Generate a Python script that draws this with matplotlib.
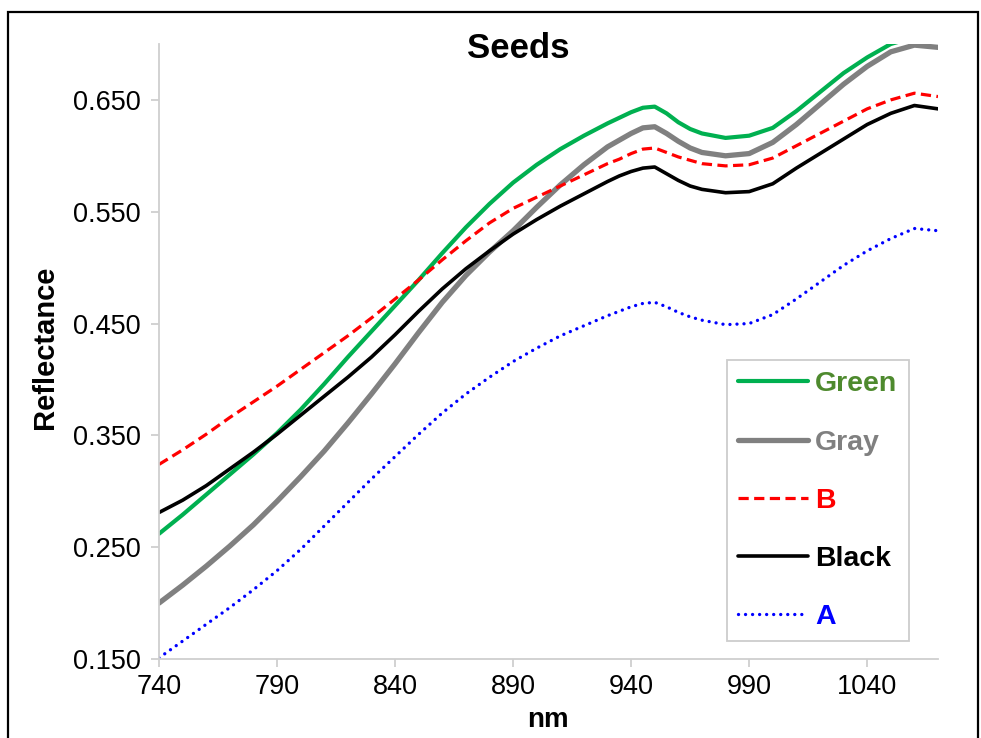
import matplotlib.pyplot as plt
from matplotlib.patches import Rectangle

plt.rcParams['font.family'] = ['Liberation Sans', 'DejaVu Sans']

wavelength = [740, 750, 760, 770, 780, 790, 800, 810, 820, 830, 840, 850,
              860, 870, 880, 890, 900, 910, 920, 930, 935, 940, 945, 950,
              955, 960, 965, 970, 980, 990, 1000, 1010, 1020, 1030, 1040,
              1050, 1060, 1070]

green = [0.262, 0.279, 0.297, 0.315, 0.333, 0.352, 0.373, 0.396, 0.420, 0.443,
         0.466, 0.489, 0.513, 0.536, 0.557, 0.576, 0.592, 0.606, 0.618, 0.629,
         0.634, 0.639, 0.643, 0.644, 0.638, 0.630, 0.624, 0.620, 0.616, 0.618,
         0.625, 0.640, 0.657, 0.674, 0.688, 0.700, 0.706, 0.710]
gray = [0.200, 0.216, 0.233, 0.251, 0.270, 0.291, 0.313, 0.336, 0.361, 0.387,
        0.414, 0.442, 0.469, 0.493, 0.514, 0.533, 0.554, 0.574, 0.592, 0.608,
        0.614, 0.620, 0.625, 0.626, 0.620, 0.613, 0.607, 0.603, 0.600, 0.602,
        0.612, 0.628, 0.646, 0.664, 0.680, 0.693, 0.699, 0.697]
b_vals = [0.324, 0.337, 0.351, 0.366, 0.380, 0.394, 0.409, 0.424, 0.439, 0.455,
          0.472, 0.489, 0.507, 0.524, 0.540, 0.553, 0.563, 0.573, 0.583, 0.593,
          0.597, 0.602, 0.606, 0.607, 0.603, 0.599, 0.596, 0.593, 0.591, 0.592,
          0.598, 0.609, 0.620, 0.631, 0.642, 0.650, 0.656, 0.653]
black = [0.281, 0.292, 0.305, 0.320, 0.335, 0.351, 0.368, 0.385, 0.402, 0.420,
         0.440, 0.461, 0.481, 0.499, 0.515, 0.530, 0.543, 0.555, 0.566, 0.577,
         0.582, 0.586, 0.589, 0.590, 0.584, 0.578, 0.573, 0.570, 0.567, 0.568,
         0.575, 0.589, 0.602, 0.615, 0.628, 0.638, 0.645, 0.642]
a_vals = [0.151, 0.166, 0.181, 0.196, 0.212, 0.229, 0.248, 0.269, 0.290, 0.311,
          0.331, 0.351, 0.370, 0.387, 0.402, 0.416, 0.428, 0.439, 0.448, 0.457,
          0.461, 0.465, 0.468, 0.469, 0.465, 0.460, 0.456, 0.453, 0.449, 0.450,
          0.458, 0.472, 0.487, 0.502, 0.515, 0.526, 0.535, 0.533]

x_ticks = [740, 790, 840, 890, 940, 990, 1040]
y_ticks = [0.150, 0.250, 0.350, 0.450, 0.550, 0.650]

fig = plt.figure(figsize=(9.81, 7.38), dpi=100)
fig.patch.set_facecolor("white")
ax = fig.add_axes([159 / 981, 1 - 659 / 738, (938 - 159) / 981, (659 - 44) / 738])

ax.plot(wavelength, green, color="#00B050", lw=3.0, label="Green",
        solid_capstyle="round", solid_joinstyle="round")
ax.plot(wavelength, gray, color="#808080", lw=3.8, label="Gray",
        solid_capstyle="round", solid_joinstyle="round")
ax.plot(wavelength, b_vals, color="#FF0000", lw=2.3, ls=(0, (3.2, 1.7)), label="B")
ax.plot(wavelength, black, color="black", lw=2.6, label="Black",
        solid_capstyle="round", solid_joinstyle="round")
ax.plot(wavelength, a_vals, color="#0000FF", lw=2.4, ls=(0, (0.01, 2.1)),
        dash_capstyle="round", label="A")

ax.set_xlim(740, 1070)
ax.set_ylim(0.15, 0.70)
ax.set_xticks(x_ticks)
ax.set_yticks(y_ticks)
ax.set_yticklabels([f"{v:.3f}" for v in y_ticks])
for s in ("top", "right"):
    ax.spines[s].set_visible(False)
for s in ("left", "bottom"):
    ax.spines[s].set_color("#CFCFCF")
    ax.spines[s].set_linewidth(1.3)
ax.tick_params(axis="both", colors="#CFCFCF", length=6, width=1.3,
               labelcolor="black", labelsize=19.5)
ax.tick_params(axis="x", pad=5)
ax.tick_params(axis="y", pad=7)

fig.text(518 / 981, 1 - 48 / 738, "Seeds", ha="center", va="center",
         fontsize=25, fontweight="bold")
fig.text(548 / 981, 1 - 720 / 738, "nm", ha="center", va="center",
         fontsize=20, fontweight="bold")
fig.text(45 / 981, 1 - 347 / 738, "Reflectance", ha="center", va="center",
         rotation=90, fontsize=21, fontweight="bold")

leg = ax.legend(loc="upper left", bbox_to_anchor=(727 / 981, 1 - 360 / 738),
                bbox_transform=fig.transFigure, frameon=True,
                fancybox=False, edgecolor="#C0C0C0", handlelength=2.45,
                handletextpad=0.25, labelspacing=1.13, borderpad=0.4,
                borderaxespad=0, prop={"weight": "bold", "size": 20.5})
leg.get_frame().set_linewidth(1.3)
label_colors = ["#4E8A2E", "#808080", "#FF0000", "black", "#0000FF"]
for txt, c in zip(leg.get_texts(), label_colors):
    txt.set_color(c)

fig.patches.append(Rectangle((8 / 981, -0.05), (978 - 8) / 981, 1.05 - 12 / 738,
                             transform=fig.transFigure, fill=False,
                             edgecolor="black", lw=1.6))

fig.savefig("out.png", dpi=100)
